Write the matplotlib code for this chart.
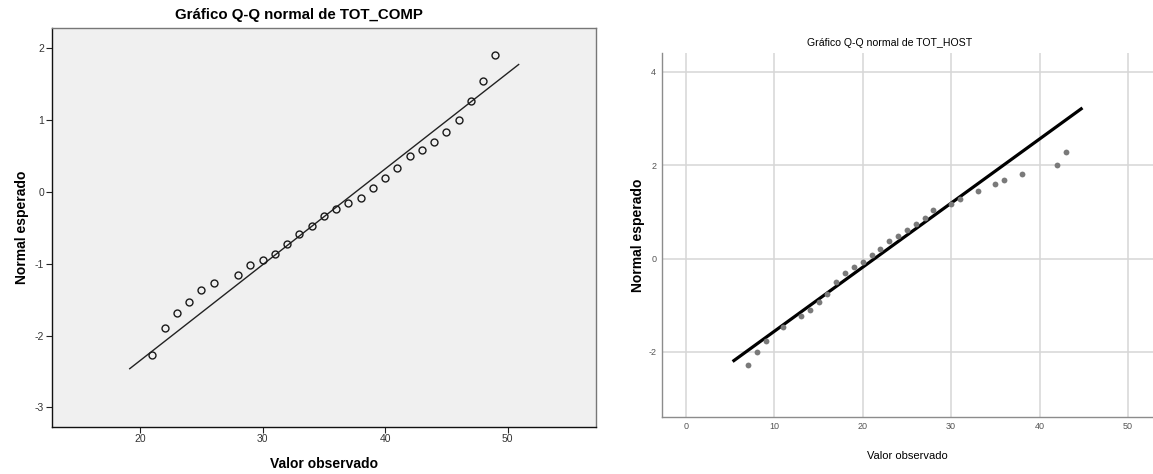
import matplotlib
matplotlib.use("Agg")
import matplotlib.pyplot as plt

plt.rcParams["axes.unicode_minus"] = False

# TOT_COMP: observed values and expected normal scores
comp_obs = [21, 22, 23, 24, 25, 26, 28, 29, 30, 31, 32, 33, 34, 35,
            36, 37, 38, 39, 40, 41, 42, 43, 44, 45, 46, 47, 48, 49]
comp_exp = [-2.27, -1.90, -1.69, -1.53, -1.36, -1.27, -1.15, -1.02, -0.95, -0.86,
            -0.72, -0.59, -0.47, -0.34, -0.24, -0.16, -0.08, 0.06, 0.19, 0.33,
            0.50, 0.59, 0.70, 0.83, 1.00, 1.27, 1.54, 1.91]
comp_mean, comp_sd = 37.6, 7.49
comp_line_x = [19.16, 50.9]

# TOT_HOST: observed values and expected normal scores
host_obs = [7, 8, 9, 11, 13, 14, 15, 16, 17, 18, 19, 20, 21, 22,
            23, 24, 25, 26, 27, 28, 30, 31, 33, 35, 36, 38, 42, 43]
host_exp = [-2.28, -2.00, -1.76, -1.46, -1.24, -1.10, -0.94, -0.76, -0.50, -0.32,
            -0.19, -0.07, 0.08, 0.21, 0.37, 0.49, 0.62, 0.75, 0.87, 1.04,
            1.16, 1.27, 1.44, 1.59, 1.69, 1.82, 2.00, 2.28]
host_mean, host_sd = 21.35, 7.28
host_line_x = [5.28, 44.86]

comp_xticks = [20, 30, 40, 50]
comp_yticks = [-3, -2, -1, 0, 1, 2]
host_xticks = [0, 10, 20, 30, 40, 50]
host_yticks = [-2, 0, 2, 4]

sans = ["Liberation Sans", "DejaVu Sans"]

fig = plt.figure(figsize=(11.53, 4.74), dpi=100)

# ---- left chart ----
ax1 = fig.add_axes([0.0449, 0.0998, 0.4719, 0.8405])
ax1.set_facecolor("#f0f0f0")
ax1.plot(comp_line_x, [(x - comp_mean) / comp_sd for x in comp_line_x],
         color="#222222", lw=1.0, zorder=2)
ax1.plot(comp_obs, comp_exp, "o", ms=5.0, mfc="none", mec="#1a1a1a", mew=1.0, zorder=3)
ax1.set_xlim(12.8, 57.2)
ax1.set_ylim(-3.27, 2.28)
ax1.set_xticks(comp_xticks)
ax1.set_yticks(comp_yticks)
ax1.tick_params(direction="out", length=4.5, width=0.8, color="#222222",
                labelsize=7.5, labelcolor="#333333", pad=1.0)
for lab in ax1.get_xticklabels() + ax1.get_yticklabels():
    lab.set_family(sans)
for side in ["left", "bottom"]:
    ax1.spines[side].set_color("#111111")
    ax1.spines[side].set_linewidth(1.0)
for side in ["top", "right"]:
    ax1.spines[side].set_color("#777777")
    ax1.spines[side].set_linewidth(1.0)
ax1.set_xlabel("Valor observado", family=sans, fontsize=10, fontweight="bold", labelpad=9)
ax1.set_ylabel("Normal esperado", family=sans, fontsize=10, fontweight="bold", labelpad=4)
fig.text(299 / 1153, 1 - 15 / 474, "Gráfico Q-Q normal de TOT_COMP", family=sans,
         fontsize=10.8, fontweight="bold", ha="center", va="center")

# ---- right chart ----
ax2 = fig.add_axes([0.574, 0.1209, 0.426, 0.7667])
ax2.set_facecolor("white")
ax2.set_xlim(-2.73, 52.84)
ax2.set_ylim(-3.39, 4.40)
ax2.set_xticks(host_xticks)
ax2.set_yticks(host_yticks)
ax2.grid(True, color="#d6d6d6", lw=1.1)
ax2.set_axisbelow(True)
ax2.plot(host_line_x, [(x - host_mean) / host_sd for x in host_line_x],
         color="black", lw=2.3, solid_capstyle="butt", zorder=3)
ax2.plot(host_obs, host_exp, "o", ms=4.2, color="#7a7a7a", mew=0, zorder=4)
ax2.tick_params(length=0, labelsize=6.5, labelcolor="#555555", pad=4)
for lab in ax2.get_xticklabels() + ax2.get_yticklabels():
    lab.set_family(sans)
for side in ["top", "right"]:
    ax2.spines[side].set_visible(False)
for side in ["left", "bottom"]:
    ax2.spines[side].set_color("#8c8c8c")
    ax2.spines[side].set_linewidth(1.0)
ax2.set_xlabel("Valor observado", family=sans, fontsize=8, labelpad=14)
ax2.set_ylabel("Normal esperado", family=sans, fontsize=10, fontweight="bold", labelpad=2)
fig.text(890 / 1153, 1 - 42.5 / 474, "Gráfico Q-Q normal de TOT_HOST", family=sans,
         fontsize=7.6, ha="center", va="center")

fig.savefig("out.png", dpi=100)
